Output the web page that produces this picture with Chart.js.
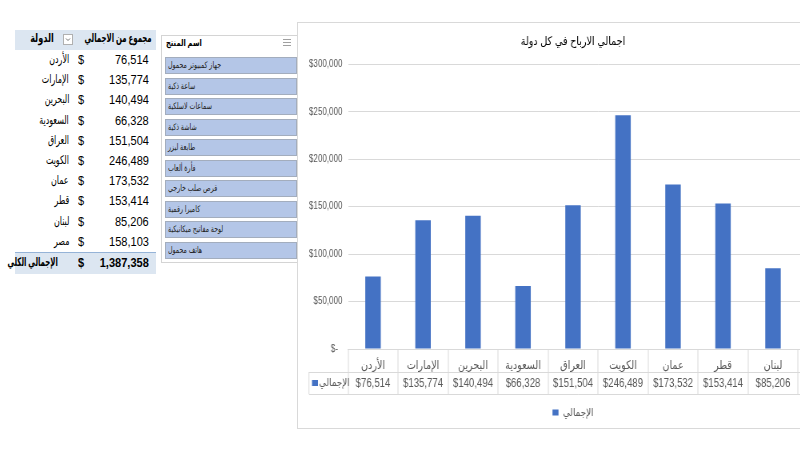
<!DOCTYPE html>
<html>
<head>
<meta charset="utf-8">
<script src="https://cdn.jsdelivr.net/npm/chart.js@4.4.1/dist/chart.umd.min.js"></script>
<style>
  body { margin: 0; width: 800px; height: 470px; overflow: hidden; background: #fff; position: relative;
         font-family: "Liberation Sans", "DejaVu Sans", sans-serif; color: #000; }
  .abs { position: absolute; white-space: nowrap; }
  .r { transform-origin: right center; }
  .l { transform-origin: left center; }
  .pv-head { background: #dce6f1; }
  .pv-total { background: #dce6f1; border-top: 1px solid #95b3d7; }
  .slicer { left: 161px; top: 35px; width: 145px; height: 228px; border: 1px solid #d4d4d4; background: #fff; box-sizing: border-box; }
  .sl-item { left: 165px; width: 132px; height: 17px; background: #b4c6e7; border: 1px solid #a3adbd; box-sizing: border-box; }
  #wrap { position: absolute; left: 297px; top: 22px; width: 561px; height: 407px; border: 1px solid #d9d9d9;
          background: #fff; box-sizing: border-box; }
  #graph1 { width: 559px !important; height: 405px !important; display: block; }
</style>
</head>
<body>
<div id="pivot"></div>
<div id="slicer"></div>
<div id="wrap"><canvas id="graph1" width="699" height="405"></canvas></div>
<script>
// donnees
var countries = ['الأردن', 'الإمارات', 'البحرين', 'السعودية', 'العراق', 'الكويت', 'عمان', 'قطر', 'لبنان', 'مصر']
var totals = [76514, 135774, 140494, 66328, 151504, 246489, 173532, 153414, 85206, 158103]
var products = ['جهاز كمبيوتر محمول', 'ساعة ذكية', 'سماعات لاسلكية', 'شاشة ذكية', 'طابعة ليزر',
                'فأرة ألعاب', 'قرص صلب خارجي', 'كاميرا رقمية', 'لوحة مفاتيح ميكانيكية', 'هاتف محمول']
var yTicks = [0, 50000, 100000, 150000, 200000, 250000, 300000]
var seriesName = 'الإجمالي'
var chartTitle = 'اجمالي الارباح في كل دولة'

function fmt(v) { return v.toLocaleString('en-US') }

// petit texte positionne (ancre a droite ou a gauche, compresse en largeur)
function txt(str, anchor, x, y, size, sx, extra) {
    var side = anchor === 'r' ? 'right:' + (800 - x) + 'px;' : 'left:' + x + 'px;'
    return '<div class="abs ' + anchor + '" style="' + side + 'top:' + y + 'px;font-size:' + size +
        'px;transform:scaleX(' + sx + ');' + (extra || '') + '">' + str + '</div>'
}

/* tableau croise a gauche */
var html = ''
html += '<div class="abs pv-head" style="left:15px;top:30px;width:141px;height:20px"></div>'
html += txt('الدولة', 'r', 54, 31, 12, 0.68, 'font-weight:bold')
html += '<div class="abs" style="left:63px;top:34px;width:10px;height:11px;border:1px solid #b0b0b0;background:#fff;box-sizing:border-box">' +
        '<svg width="8" height="9" style="display:block"><polyline points="2,3.5 4,5.5 6,3.5" fill="none" stroke="#777" stroke-width="1"/></svg></div>'
html += txt('مجموع من الاجمالي', 'r', 152, 31, 12, 0.58, 'font-weight:bold')
for (var i = 0; i < countries.length; i++) {
    var t = 50 + i * 20.2
    html += txt(countries[i], 'r', 69, t + 2, 12, 0.66)
    html += txt('$', 'l', 78, t + 2, 13, 0.85)
    html += txt(fmt(totals[i]), 'r', 149, t + 2, 13, 0.85)
}
var grand = totals.reduce(function (a, b) { return a + b }, 0)
html += '<div class="abs pv-total" style="left:15px;top:252px;width:141px;height:21px"></div>'
html += txt('الإجمالي الكلي', 'r', 58, 255, 12, 0.58, 'font-weight:bold')
html += txt('$', 'l', 78, 255, 13, 0.85, 'font-weight:bold')
html += txt(fmt(grand), 'r', 149, 255, 13, 0.85, 'font-weight:bold')
document.getElementById('pivot').innerHTML = html

/* segment (slicer) */
var s = '<div class="abs slicer"></div>'
s += txt('اسم المنتج', 'l', 166, 38, 9, 0.75, 'font-weight:bold')
s += '<div class="abs" style="left:283px;top:38px;width:8px;height:9px">' +
     '<svg width="8" height="9" style="display:block"><g stroke="#a0a0a0" stroke-width="1">' +
     '<line x1="0" y1="1.5" x2="8" y2="1.5"/><line x1="0" y1="4.5" x2="8" y2="4.5"/><line x1="0" y1="7.5" x2="8" y2="7.5"/></g></svg></div>'
for (var j = 0; j < products.length; j++) {
    var ty = 57 + j * 20.5
    s += '<div class="abs sl-item" style="top:' + ty + 'px"></div>'
    s += txt(products[j], 'l', 168, ty + 3, 9, 0.7, 'color:#222')
}
document.getElementById('slicer').innerHTML = s

/* graphique */
var SX = 559 / 699 // compression horizontale du canevas
Chart.defaults.font.family = '"Liberation Sans", "DejaVu Sans", sans-serif'
Chart.defaults.color = '#595959'

var BLUE = '#4472C4'
var LINE = '#d9d9d9'

// table de donnees sous l'axe (comme Excel)
var dataTable = {
    id: 'dataTable',
    afterDraw: function (chart) {
        var ctx = chart.ctx
        var x = chart.scales.x
        var top = x.top
        var r1 = top + 23, r2 = top + 45
        var step = x.getPixelForValue(1) - x.getPixelForValue(0)
        var keyLeft = 11 / SX
        ctx.save()
        ctx.strokeStyle = LINE
        ctx.lineWidth = 1
        ctx.beginPath()
        ctx.moveTo(keyLeft, Math.round(r1) + 0.5); ctx.lineTo(x.right, Math.round(r1) + 0.5)
        ctx.moveTo(keyLeft, Math.round(r2) + 0.5); ctx.lineTo(x.right, Math.round(r2) + 0.5)
        ctx.moveTo(keyLeft, r1); ctx.lineTo(keyLeft, r2)
        for (var i = 0; i <= countries.length; i++) {
            var bx = Math.round(x.getPixelForValue(i) - step / 2)
            ctx.moveTo(bx, top); ctx.lineTo(bx, r2)
        }
        ctx.stroke()
        ctx.font = '12px ' + Chart.defaults.font.family
        ctx.fillStyle = '#595959'
        ctx.textAlign = 'center'
        ctx.textBaseline = 'middle'
        var ym = (r1 + r2) / 2
        for (var k = 0; k < totals.length; k++) {
            ctx.fillText('$' + fmt(totals[k]), x.getPixelForValue(k), ym + 1)
        }
        ctx.fillStyle = BLUE
        ctx.fillRect(keyLeft + 3 / SX, ym - 3, 6 / SX, 6)
        ctx.fillStyle = '#595959'
        ctx.textAlign = 'left'
        ctx.font = '11px ' + Chart.defaults.font.family
        ctx.fillText(seriesName, keyLeft + 10 / SX, ym)
        ctx.restore()
    }
}

var ctx = document.getElementById('graph1').getContext('2d')
var data = {
    labels: countries,
    datasets: [
        {
            label: seriesName,
            backgroundColor: BLUE,
            data: totals,
            categoryPercentage: 1,
            barPercentage: 0.31
        }
    ]
}

var options = {
    responsive: false,
    animation: false,
    devicePixelRatio: 1,
    layout: { padding: { left: 0, right: 699 - 50 / SX - 500 / SX, top: 0, bottom: 0 } },
    plugins: {
        title: {
            display: true,
            text: chartTitle,
            color: '#000',
            font: { size: 12, weight: 'normal' },
            padding: { top: 11, bottom: 16 }
        },
        legend: {
            position: 'bottom',
            labels: { boxWidth: 6 / SX, boxHeight: 6, font: { size: 11 }, color: '#595959', padding: 10 }
        },
        tooltip: { enabled: false }
    },
    scales: {
        x: {
            grid: { display: false },
            border: { display: true, color: LINE },
            ticks: { font: { size: 12 }, padding: 1, maxRotation: 0, autoSkip: false },
            afterFit: function (scale) { scale.height = 48 }
        },
        y: {
            min: 0,
            max: 300000,
            afterBuildTicks: function (scale) { scale.ticks = yTicks.map(function (v) { return { value: v } }) },
            grid: { color: LINE, drawTicks: false },
            border: { display: false },
            ticks: {
                font: { size: 10 },
                padding: 7,
                callback: function (v) { return v === 0 ? '$-  ' : '$' + fmt(v) }
            },
            afterFit: function (scale) { scale.width = 50 / SX }
        }
    }
}

var config = {
    type: 'bar',
    data: data,
    options: options,
    plugins: [dataTable]
}

var graph1 = new Chart(ctx, config)
</script>
</body>
</html>
